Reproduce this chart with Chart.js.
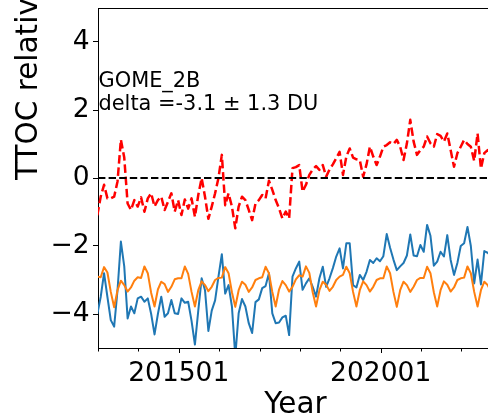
<!DOCTYPE html>
<html>
<head>
<meta charset="utf-8">
<script src="https://cdn.jsdelivr.net/npm/chart.js@4"></script>
<style>
  html, body { margin: 0; padding: 0; background: #fff; }
</style>
</head>
<body>
<canvas id="ttocChart" width="488" height="418"></canvas>
<script>
// Monthly values, first entry is 201212, then one row per year (2013 ... 2022)
const firstMonth = -1; // months after 201301 of the first entry
const monthShift = 0.8; // points sit late in their month

// red dashed: difference
const diffValues = [
  -1.1,
  -0.55, -0.2, -0.6, -0.6, -0.55, -0.1, 1.13, 0.6, -0.75, -0.94, -0.65, -0.84,
  -0.57, -0.99, -0.6, -0.45, -0.84, -0.65, -0.55, -0.94, -0.7, -0.45, -0.99, -0.65,
  -1.09, -0.63, -0.9, -0.6, -1.14, -0.5, 0.0, -0.55, -1.2, -0.84, -0.45, 0.0,
  0.68, -0.8, -0.45, -0.84, -1.48, -0.84, -0.55, -0.65, -0.94, -1.24, -0.75, -0.65,
  -0.5, -0.6, -0.08, -0.35, -0.65, -0.89, -1.19, -0.99, -1.19, 0.29, 0.32, 0.38,
  -0.4, -0.2, 0.09, 0.25, 0.35, 0.24, 0.38, 0.04, 0.25, 0.4, 0.58, 0.77,
  0.09, 0.63, 0.87, 0.6, 0.55, 0.53, 0.04, 0.4, 0.92, 0.63, 0.38, 0.63,
  0.92, 0.97, 1.05, 1.0, 1.12, 0.92, 0.53, 1.02, 1.71, 1.07, 0.68, 0.82,
  0.92, 1.22, 1.02, 0.92, 1.29, 1.24, 1.07, 1.31, 0.82, 0.33, 0.73, 0.92,
  1.12, 1.0, 0.92, 0.5, 1.31, 0.28, 0.73, 0.82, 0.75
];

// blue: satellite
const satValues = [
  -4.0,
  -3.5, -2.8, -3.5, -4.18, -4.37, -3.3, -1.87, -2.6, -4.13, -3.78, -3.98, -3.54,
  -3.49, -3.64, -3.54, -4.0, -4.6, -4.0, -3.49, -4.08, -3.98, -3.59, -3.98, -4.0,
  -3.54, -3.67, -3.64, -4.2, -4.9, -3.9, -2.95, -3.3, -4.5, -3.9, -3.6, -2.9,
  -2.24, -3.4, -3.15, -3.78, -5.25, -3.98, -3.56, -3.78, -4.27, -4.56, -3.65, -3.57,
  -3.24, -3.18, -2.8, -3.98, -4.27, -4.25, -4.1, -4.05, -4.62, -2.9, -2.66, -2.46,
  -3.29, -3.1, -2.95, -3.2, -3.49, -2.95, -2.61, -3.2, -2.95, -2.65, -2.31, -2.07,
  -2.66, -1.92, -1.92, -3.15, -3.22, -2.85, -3.0, -2.76, -2.41, -2.5, -2.36, -2.45,
  -2.3, -1.65, -2.05, -2.4, -2.71, -2.6, -2.5, -2.28, -1.66, -2.28, -2.3, -1.97,
  -2.17, -1.38, -1.7, -2.58, -2.46, -2.17, -2.31, -1.68, -2.41, -2.85, -2.5, -2.0,
  -1.92, -1.44, -2.0, -3.1, -2.4, -3.13, -2.15, -2.2, -2.3
];

// orange: reference
const refValues = [
  -2.9,
  -2.92, -2.62, -2.78, -3.35, -3.8, -3.3, -3.02, -3.15, -3.34, -3.22, -3.02, -2.92,
  -2.94, -2.6, -2.8, -3.38, -3.78, -3.28, -3.05, -3.12, -3.35, -3.2, -2.98, -2.95,
  -2.95, -2.6, -2.82, -3.35, -3.78, -3.3, -3.04, -3.15, -3.33, -3.2, -3.0, -2.94,
  -2.93, -2.62, -2.8, -3.36, -3.79, -3.3, -3.05, -3.14, -3.35, -3.22, -3.0, -2.95,
  -2.92, -2.61, -2.8, -3.35, -3.78, -3.28, -3.03, -3.15, -3.34, -3.2, -2.98, -2.86,
  -2.9, -2.6, -2.79, -3.36, -3.78, -3.3, -3.05, -3.14, -3.32, -3.2, -3.0, -2.9,
  -2.85, -2.61, -2.8, -3.35, -3.78, -3.3, -3.04, -3.15, -3.34, -3.2, -3.0, -2.95,
  -2.95, -2.6, -2.8, -3.35, -3.79, -3.3, -3.05, -3.15, -3.35, -3.2, -3.0, -2.94,
  -2.94, -2.61, -2.8, -3.36, -3.78, -3.3, -3.04, -3.14, -3.34, -3.22, -3.0, -2.95,
  -2.93, -2.6, -2.8, -3.35, -3.78, -3.3, -3.05, -3.15, -3.35
];

const yTicks = [-4, -2, 0, 2, 4];
const xLabelMonths = [24, 84]; // months after 201301 that get a label
const annotation = ["GOME_2B", "delta =-3.1 \u00b1 1.3 DU"];
const yTitle = "TTOC relative";
const xTitle = "Year";

const FONT = "DejaVu Sans";

// months after 201301 -> "YYYYMM"
function monthLabel(n) {
  const y = 2013 + Math.floor(n / 12);
  const m = (n % 12) + 1;
  return String(y) + String(m).padStart(2, "0");
}

function toPoints(values) {
  return values.map((v, i) => ({ x: firstMonth + i + monthShift, y: v }));
}

// spine on top, year ticks, titles and the text box
const decorations = {
  id: "decorations",
  afterDraw(chart) {
    const ctx = chart.ctx;
    const area = chart.chartArea;
    const xs = chart.scales.x;
    ctx.save();
    ctx.strokeStyle = "#000";
    ctx.lineWidth = 1;
    ctx.beginPath();
    ctx.moveTo(area.left, area.top + 0.5);
    ctx.lineTo(area.right, area.top + 0.5);
    ctx.stroke();

    for (let v = 0; v <= xs.max; v += 12) {
      const px = Math.round(xs.getPixelForValue(v)) + 0.5;
      const len = xLabelMonths.includes(v) ? 5 : 3.5;
      ctx.beginPath();
      ctx.moveTo(px, area.bottom);
      ctx.lineTo(px, area.bottom + len);
      ctx.stroke();
    }

    ctx.fillStyle = "#000";
    ctx.textBaseline = "alphabetic";
    ctx.font = "20.9px '" + FONT + "'";
    ctx.textAlign = "left";
    ctx.fillText(annotation[0], area.left + 0.5, 87);
    ctx.fillText(annotation[1], area.left + 0.5, 110);

    ctx.font = "29.5px '" + FONT + "'";
    ctx.textAlign = "center";
    ctx.fillText(xTitle, 295.5, 413);

    ctx.translate(37, 180);
    ctx.rotate(-Math.PI / 2);
    ctx.textAlign = "left";
    ctx.fillText(yTitle, 0, 0);
    ctx.restore();
  }
};

const ctx = document.getElementById("ttocChart").getContext("2d");

const chart = new Chart(ctx, {
  type: "line",
  data: {
    datasets: [
      {
        data: [{ x: 0, y: 0 }, { x: 200, y: 0 }],
        borderColor: "#000",
        borderWidth: 2,
        borderDash: [7.4, 3.2],
        pointRadius: 0,
        order: 0,
      },
      {
        data: toPoints(diffValues),
        borderColor: "#ff0000",
        borderWidth: 2.5,
        borderDash: [8.5, 3.8],
        borderJoinStyle: "round",
        pointRadius: 0,
        order: 1,
      },
      {
        data: toPoints(refValues),
        borderColor: "#ff7f0e",
        borderWidth: 2,
        borderJoinStyle: "round",
        pointRadius: 0,
        order: 2,
      },
      {
        data: toPoints(satValues),
        borderColor: "#1f77b4",
        borderWidth: 2,
        borderJoinStyle: "round",
        pointRadius: 0,
        order: 3,
      },
    ],
  },
  options: {
    responsive: false,
    animation: false,
    devicePixelRatio: 1,
    events: [],
    layout: { padding: { top: 8, right: 0, bottom: 0, left: 0 } },
    plugins: {
      legend: { display: false },
      tooltip: { enabled: false },
    },
    scales: {
      x: {
        type: "linear",
        min: 0,
        max: 115.9,
        afterFit(scale) {
          scale.height = 70;
          scale.paddingLeft = 0;
          scale.paddingRight = 0;
        },
        afterBuildTicks(scale) {
          const t = [];
          for (let v = 0; v <= 115; v += 12) t.push({ value: v });
          scale.ticks = t;
        },
        grid: {
          drawOnChartArea: false,
          drawTicks: true,
          tickLength: 5,
          tickColor: "rgba(0,0,0,0)",
        },
        border: { display: true, color: "#000", width: 1 },
        ticks: {
          autoSkip: false,
          maxRotation: 0,
          padding: 5,
          color: "#000",
          font: { family: FONT, size: 26.5 },
          callback: (v) => (xLabelMonths.includes(v) ? monthLabel(v) : ""),
        },
      },
      y: {
        min: -5,
        max: 5,
        afterFit(scale) {
          scale.width = 98;
          scale.paddingTop = 0;
          scale.paddingBottom = 0;
        },
        afterBuildTicks(scale) {
          scale.ticks = yTicks.map((v) => ({ value: v }));
        },
        grid: {
          drawOnChartArea: false,
          drawTicks: true,
          tickLength: 5,
          tickColor: "#000",
        },
        border: { display: true, color: "#000", width: 1 },
        ticks: {
          padding: 3.5,
          color: "#000",
          font: { family: FONT, size: 26.5 },
          callback: (v) => (v < 0 ? "\u2212" + Math.abs(v) : String(v)),
        },
      },
    },
  },
  plugins: [decorations],
});
</script>
</body>
</html>
